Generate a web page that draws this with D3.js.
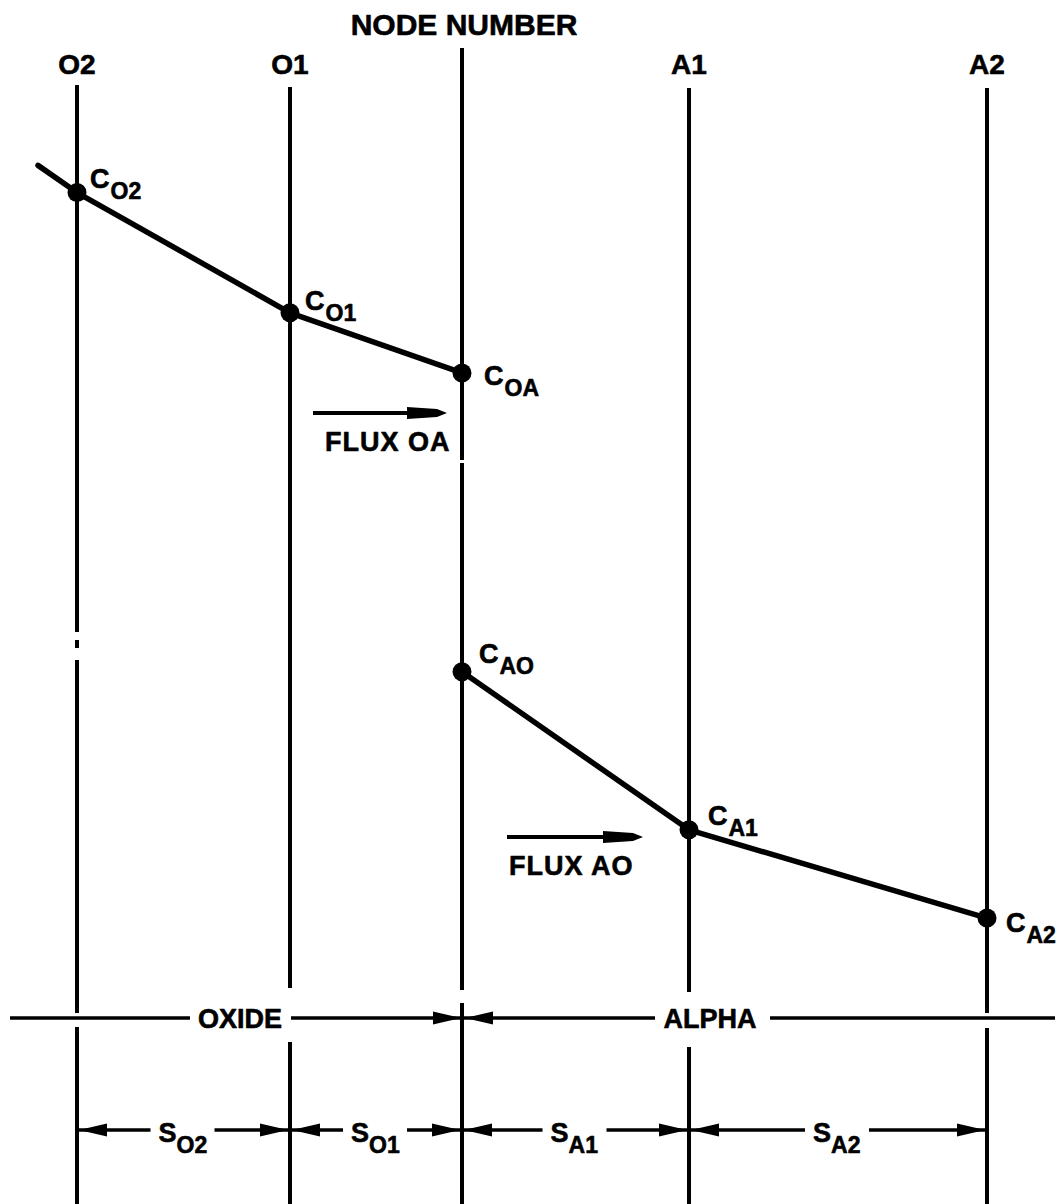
<!DOCTYPE html>
<html>
<head>
<meta charset="utf-8">
<script src="https://cdn.jsdelivr.net/npm/d3@7"></script>
<style>
  body { margin: 0; background: #fff; }
  svg text { font-family: "Liberation Sans", Arial, sans-serif; font-weight: bold; fill: #000;
             stroke: #000; stroke-width: 0.6px; stroke-linejoin: round; }
</style>
</head>
<body>
<svg id="chart" width="1062" height="1204"></svg>
<script>
// Node grid: names and distance of each node along the specimen (arbitrary units)
const nodeNames    = ["O2", "O1", "", "A1", "A2"];
const nodeDistance = [0, 213, 385, 612, 910];

// Concentration profile in the oxide (leading point extends beyond node O2)
const oxideDistance = [-39, 0, 213, 385];
const oxideConc     = [87.9, 85.1, 72.7, 66.5];
// Concentration profile in the alpha layer
const alphaDistance = [385, 612, 910];
const alphaConc     = [35.7, 19.4, 10.3];

// Labelled nodal concentrations: main symbol, subscript
const pointMain = ["C", "C", "C", "C", "C", "C"];
const pointSub  = ["O2", "O1", "OA", "AO", "A1", "A2"];
const pointDist = [0, 213, 385, 385, 612, 910];
const pointConc = [85.1, 72.7, 66.5, 35.7, 19.4, 10.3];

// Spacing labels between neighbouring nodes
const spacingSub = ["O2", "O1", "A1", "A2"];

// Region labels
const regionNames = ["OXIDE", "ALPHA"];
const regionAt    = [163, 633];

// Flux labels
const fluxNames = ["FLUX OA", "FLUX AO"];

const svg = d3.select("#chart");
const x = d3.scaleLinear().domain([0, 910]).range([77, 987]);
const y = d3.scaleLinear().domain([0, 100]).range([1018, 48]);

// Title
svg.append("text").attr("x", 464).attr("y", 35).attr("text-anchor", "middle")
  .style("font-size", "30px").text("NODE NUMBER");

// Node labels
nodeNames.forEach((n, i) => {
  if (!n) return;
  svg.append("text").attr("x", x(nodeDistance[i])).attr("y", 74)
    .attr("text-anchor", "middle").style("font-size", "28px").text(n);
});

// Vertical node lines (broken where region / spacing labels cross)
const lineSegments = [
  [[85, 632], [640, 648], [660, 1013], [1027, 1204]],
  [[87, 988], [1042, 1204]],
  [[48, 460], [463, 990], [1003, 1204]],
  [[88, 992], [1047, 1204]],
  [[88, 1013], [1028, 1204]]
];
nodeDistance.forEach((d, i) => {
  lineSegments[i].forEach(s => {
    svg.append("line").attr("x1", x(d)).attr("x2", x(d))
      .attr("y1", s[0]).attr("y2", s[1])
      .attr("stroke", "#000").attr("stroke-width", 4);
  });
});

// Concentration profiles
const line = d3.line().x(d => x(d[0])).y(d => y(d[1]));
[[oxideDistance, oxideConc], [alphaDistance, alphaConc]].forEach(([ds, cs]) => {
  svg.append("path").datum(ds.map((d, i) => [d, cs[i]]))
    .attr("d", line).attr("fill", "none").attr("stroke", "#000")
    .attr("stroke-width", 5.5).attr("stroke-linejoin", "round").attr("stroke-linecap", "round");
});

// Nodal points and labels
const labelOffset = [[13, -5], [15, -3], [22, 12], [17, -9], [19, -5], [19, 14]];
pointDist.forEach((d, i) => {
  const cx = x(d), cy = y(pointConc[i]);
  svg.append("circle").attr("cx", cx).attr("cy", cy).attr("r", 9.5).attr("fill", "#000");
  const t = svg.append("text").attr("x", cx + labelOffset[i][0]).attr("y", cy + labelOffset[i][1])
    .style("font-size", "27px");
  t.append("tspan").text(pointMain[i]);
  t.append("tspan").attr("dy", 11).attr("dx", 1).style("font-size", "23px").text(pointSub[i]);
});

// Flux arrows
function fluxArrow(x0, x1, yy, label, tx) {
  svg.append("line").attr("x1", x0).attr("x2", x1 - 30).attr("y1", yy).attr("y2", yy)
    .attr("stroke", "#000").attr("stroke-width", 4);
  svg.append("path")
    .attr("d", `M${x1 - 40},${yy - 6} L${x1 - 10},${yy - 4} L${x1},${yy} L${x1 - 10},${yy + 4} L${x1 - 40},${yy + 6} Z`)
    .attr("fill", "#000");
  svg.append("text").attr("x", tx).attr("y", yy + 38).style("font-size", "27px")
    .style("letter-spacing", "1px").text(label);
}
fluxArrow(313, 447, 413, fluxNames[0], 325);
fluxArrow(507, 643, 837, fluxNames[1], 509);

// Dimension arrowhead: tip at (tx, yy), pointing in direction dir (+1 right, -1 left)
function head(tx, yy, dir, len = 28, hw = 6.5) {
  svg.append("path")
    .attr("d", `M${tx},${yy} L${tx - dir * len},${yy - hw} L${tx - dir * len},${yy + hw} Z`)
    .attr("fill", "#000");
}
function hline(x0, x1, yy, w = 3.5) {
  svg.append("line").attr("x1", x0).attr("x2", x1).attr("y1", yy).attr("y2", yy)
    .attr("stroke", "#000").attr("stroke-width", w);
}

// Region line with labels
const regionY = 1018;
const xi = x(385);
const oxX = x(regionAt[0]), alX = x(regionAt[1]);
svg.append("text").attr("x", oxX).attr("y", regionY + 10).attr("text-anchor", "middle")
  .style("font-size", "27px").text(regionNames[0]);
svg.append("text").attr("x", alX).attr("y", regionY + 10).attr("text-anchor", "middle")
  .style("font-size", "27px").text(regionNames[1]);
hline(10, oxX - 50, regionY);
hline(oxX + 51, xi - 2, regionY);
head(xi - 1, regionY, 1);
hline(xi + 2, alX - 55, regionY);
head(xi + 3, regionY, -1);
hline(alX + 60, 1055, regionY);

// Spacing dimension line
const dimY = 1130;
spacingSub.forEach((s, i) => {
  const a = x(nodeDistance[i]), b = x(nodeDistance[i + 1]);
  const m = (a + b) / 2;
  const t = svg.append("text").attr("x", m - 25).attr("y", dimY + 12).style("font-size", "27px");
  t.append("tspan").text("S");
  t.append("tspan").attr("dy", 11).style("font-size", "23px").text(s);
  head(a + 2, dimY, -1);
  head(b - 2, dimY, 1);
  hline(a + 2, m - 33, dimY);
  hline(m + 31, b - 2, dimY);
});
</script>
</body>
</html>
